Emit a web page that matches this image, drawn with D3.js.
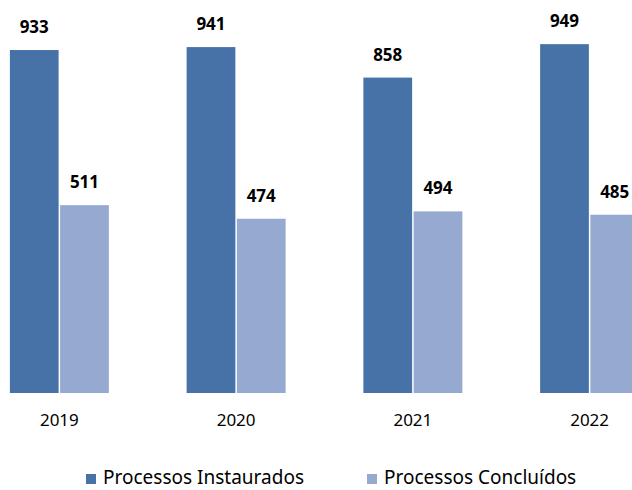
<!DOCTYPE html>
<html>
<head>
<meta charset="utf-8">
<script src="https://cdn.jsdelivr.net/npm/d3@7"></script>
<style>
  body { margin: 0; background: #fff; }
  text { font-family: "Noto Sans", sans-serif; fill: #000; }
</style>
</head>
<body>
<svg></svg>
<script>
// anos e series do grafico
const years = ["2019", "2020", "2021", "2022"];
const seriesNames = ["Processos Instaurados", "Processos Concluídos"];
const instaurados = [933, 941, 858, 949];
const concluidos = [511, 474, 494, 485];
const colors = ["#4672A8", "#95A9D1"];

const width = 632;
const height = 490;
const baseline = 393;

const svg = d3.select("svg")
    .attr("width", width)
    .attr("height", height);

const rows = years.map((yr, i) => ({year: yr, values: [instaurados[i], concluidos[i]]}));

// plot area is a bit wider than the picture (cropped on both sides)
const x0 = d3.scaleBand()
    .domain(years)
    .range([-29, 678])
    .paddingInner(0.44)
    .paddingOuter(0.22);

const x1 = d3.scaleBand()
    .domain([0, 1])
    .range([0, x0.bandwidth()])
    .paddingInner(0.03);

const y = d3.scaleLinear()
    .domain([0, 1000])
    .range([baseline, 25.4]);

const groups = svg.append("g")
  .selectAll("g")
  .data(rows)
  .join("g")
    .attr("transform", d => `translate(${x0(d.year)},0)`);

groups.selectAll("rect")
  .data(d => d.values.map((v, k) => ({k: k, v: v})))
  .join("rect")
    .attr("x", d => x1(d.k))
    .attr("y", d => y(d.v))
    .attr("width", x1.bandwidth())
    .attr("height", d => y(0) - y(d.v))
    .attr("fill", d => colors[d.k]);

// rotulos de valor
groups.selectAll("text.val")
  .data(d => d.values.map((v, k) => ({k: k, v: v})))
  .join("text")
    .attr("class", "val")
    .attr("x", d => x1(d.k) + x1.bandwidth() / 2)
    .attr("y", d => y(d.v) - 17)
    .attr("text-anchor", "middle")
    .style("font-size", "17px")
    .style("font-weight", "bold")
    .text(d => d.v);

// eixo x
const xAxis = svg.append("g")
    .attr("transform", `translate(0,${baseline})`)
    .call(d3.axisBottom(x0).tickSize(0).tickPadding(21));
xAxis.select(".domain").remove();
xAxis.selectAll("text")
    .style("font-size", "17px")
    .style("font-family", "'Noto Sans', sans-serif");

// legenda
const legendX = [86, 367];
const legend = svg.append("g")
  .selectAll("g")
  .data(seriesNames)
  .join("g")
    .attr("transform", (d, i) => `translate(${legendX[i]},0)`);

legend.append("rect")
    .attr("x", 0)
    .attr("y", 474)
    .attr("width", 10)
    .attr("height", 10)
    .attr("fill", (d, i) => colors[i]);

legend.append("text")
    .attr("x", 17)
    .attr("y", 484)
    .style("font-size", "19px")
    .text(d => d);
</script>
</body>
</html>
